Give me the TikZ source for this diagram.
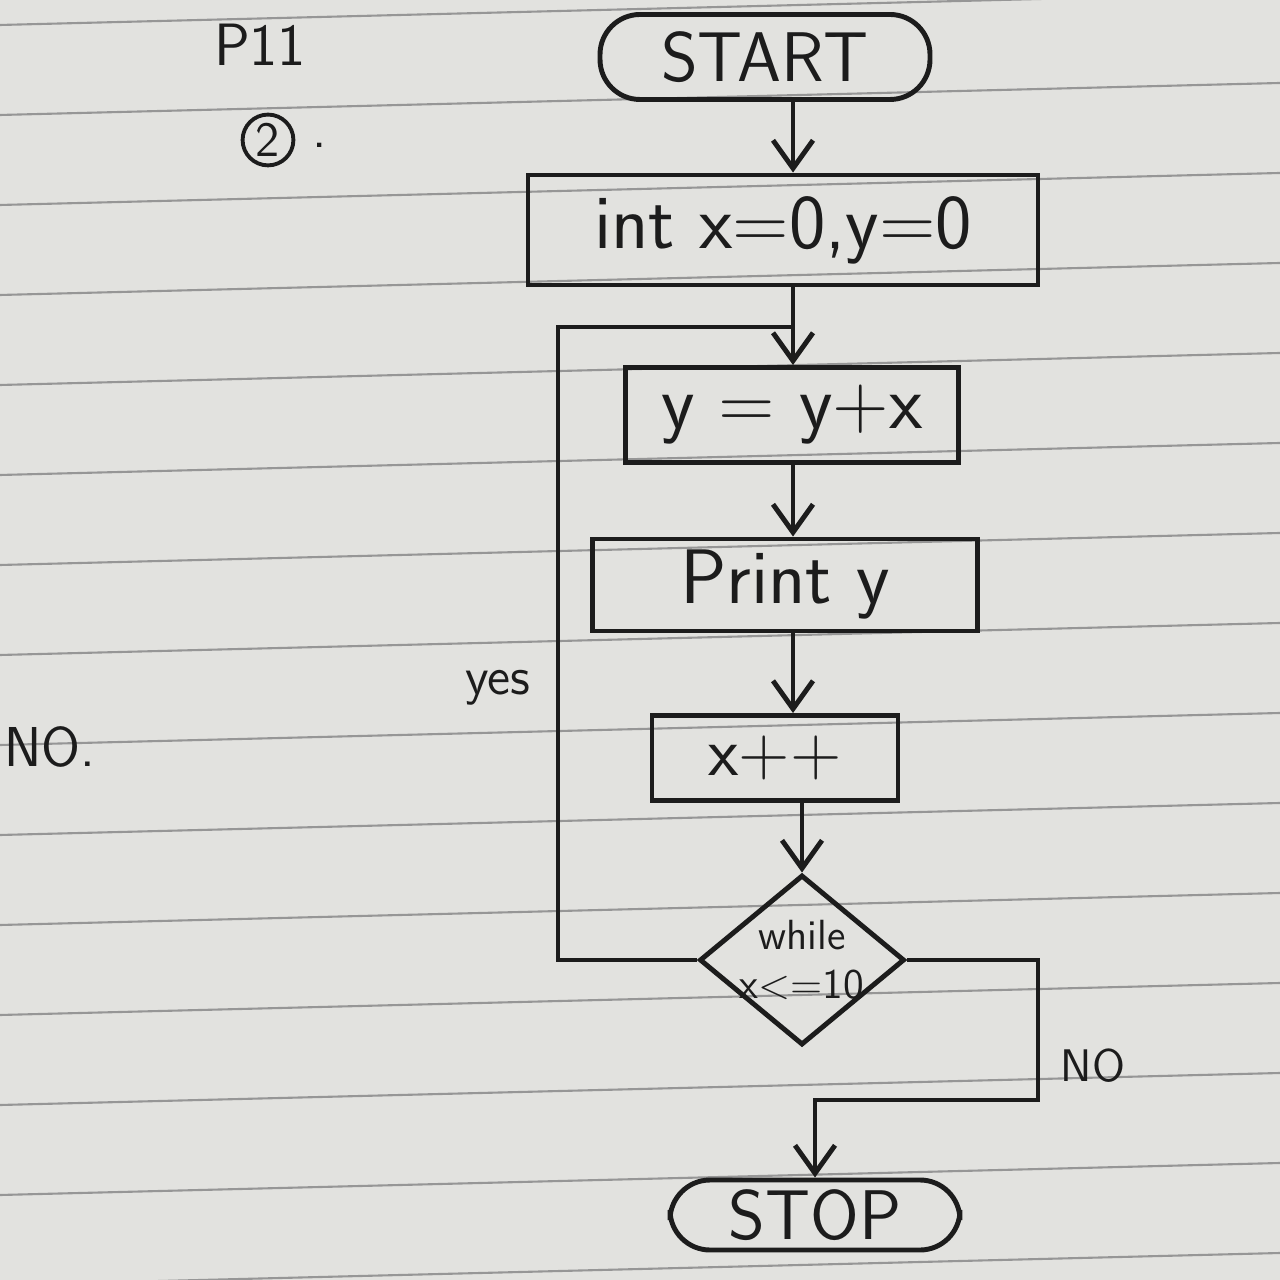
\documentclass[tikz,border=0pt]{standalone}
\usepackage{tikz}
\usetikzlibrary{arrows.meta}
\usetikzlibrary{shapes.geometric}
\definecolor{paper}{RGB}{226,226,223}
\definecolor{ink}{RGB}{28,28,28}
\definecolor{ruling}{RGB}{150,150,150}
\tikzset{>={Straight Barb[length=2.8mm,width=4mm]}}
\tikzset{
  box/.style={rectangle,draw=ink,line width=1.4pt,text=ink,inner sep=0pt,
    font=\fontsize{22}{24}\selectfont\sffamily},
  term/.style={box,rounded corners=4mm,font=\fontsize{20}{24}\selectfont\sffamily},
  test/.style={diamond,draw=ink,line width=1.4pt,text=ink,align=center,inner sep=-6pt,
    font=\fontsize{12}{14}\selectfont\sffamily},
  flow/.style={draw=ink,line width=1.4pt},
  note/.style={text=ink,font=\fontsize{15}{18}\selectfont\sffamily},
  ruleline/.style={draw=ruling,line width=0.6pt}
}

\begin{document}
\begin{tikzpicture}
    % notebook page
    \fill [paper] (0,0) rectangle (12.8,-12.8);
    \useasboundingbox (0,0) rectangle (12.8,-12.8);
    \foreach \k in {0,...,14}
      \draw [ruleline] (0,{-0.25-0.9*\k}) -- (12.8,{-0.25-0.9*\k+0.32});

    \node at (7.65,-0.57) [term,minimum width=3.3cm,minimum height=0.85cm] (start) {START};
    \node at (7.83,-2.3) [box,minimum width=5.1cm,minimum height=1.1cm] (init) {int x=0,y=0};
    \node at (7.92,-4.15) [box,minimum width=3.33cm,minimum height=0.95cm] (body) {y = y+x};
    \node at (7.85,-5.85) [box,minimum width=3.85cm,minimum height=0.92cm] (prnt) {Print y};
    \node at (7.75,-7.58) [box,minimum width=2.46cm,minimum height=0.85cm,
      font=\fontsize{20}{24}\selectfont\sffamily] (incr) {x++};
    \node at (8.02,-9.6) [test,minimum width=2.05cm,minimum height=1.7cm] (cond) {while\\x<=10};
    \node at (8.15,-12.15) [term,minimum width=2.9cm,minimum height=0.7cm] (stop) {STOP};

    \coordinate (col) at (7.93,0);
    \coordinate (looptop) at (5.58,-3.27);
    \coordinate (nobend) at (10.38,-11.0);

    \draw [flow,->] (start.south -| col) -- (init.north -| col);
    \draw [flow,->] (init.south -| col) -- (body.north -| col);
    \draw [flow,->] (body.south -| col) -- (prnt.north -| col);
    \draw [flow,->] (prnt.south -| col) -- (incr.north -| col);
    \draw [flow,->] (incr.south -| cond.north) -- (cond.north);
    \draw [flow] (cond.west) -| (looptop) -- (looptop -| col);
    \draw [flow,->] (cond.east) -| (nobend) -| (stop.north);

    % side notes
    \node at (4.98,-6.88) [note] (yes) {yes};
    \node at (10.93,-10.66) [note,font=\fontsize{13}{15}\selectfont\sffamily] (nolbl) {NO};
    \node at (-0.08,-7.47) [note,anchor=west,font=\fontsize{16}{18}\selectfont\sffamily] (noleft) {NO.};
    \node at (2.6,-0.45) [note,font=\fontsize{17}{20}\selectfont\sffamily] (page) {P11};
    \node at (2.68,-1.4) [note,circle,draw=ink,line width=1.1pt,inner sep=1pt,
      font=\fontsize{14}{16}\selectfont\sffamily] (qno) {2};
    \node at (3.2,-1.45) [note] (qdot) {.};
\end{tikzpicture}
\end{document}
